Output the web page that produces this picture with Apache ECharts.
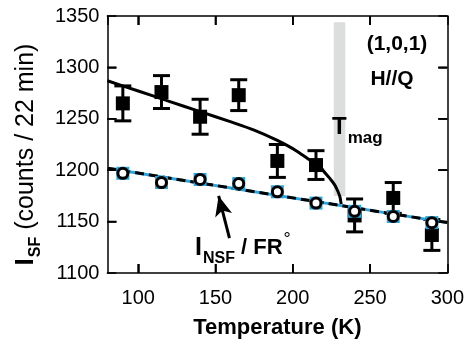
<!DOCTYPE html>
<html>
<head>
<meta charset="utf-8">
<script src="https://cdn.jsdelivr.net/npm/echarts@6/dist/echarts.min.js"></script>
<style>
  html, body { margin: 0; padding: 0; background: #fff; }
  #chart { width: 467px; height: 353px; }
</style>
</head>
<body>
<div id="chart"></div>
<script>
// spin-flip intensity with error bars
const temps = [90, 115, 140, 165, 190, 215, 240, 265, 290];
const sfCounts = [1265, 1276, 1252, 1273, 1209, 1205, 1156, 1173, 1137];
const sfErr = [17, 16, 17, 15, 16, 14, 16, 15, 15];
// non spin-flip / flipping ratio
const nsfCounts = [1197, 1188, 1191, 1187, 1179, 1168, 1160, 1155, 1149];

// fitted curve (solid) and background line (dashed)
const fitT = [80, 100, 120, 140, 160, 175, 190, 200, 205, 210, 215, 218, 220, 224, 227, 229, 230.5, 231.3];
const fitVals = [1287, 1277, 1267, 1257, 1247, 1239, 1229, 1221, 1216, 1211, 1206, 1203, 1199, 1192, 1186, 1180, 1174, 1167];
const bgT = [80, 300];
const bgVals = [1202, 1149];

// T_mag band and arrow
const tmagBand = [226.5, 234, 1175, 1344];
const arrowFrom = [159, 1134];
const arrowTo = [152, 1175];

const xRange = [80, 300];
const yRange = [1100, 1350];
const xInnerTicks = [100, 150, 200, 250];
const yInnerTicks = [1150, 1200, 1250, 1300];

const FONT = 'Liberation Sans, Arial, Helvetica, sans-serif';
const CYAN = '#2aa6dc';
const TICK_LEN = 9;

const pair = (xs, ys) => xs.map((x, i) => [x, ys[i]]);

const chart = echarts.init(document.getElementById('chart'));

// every axis gets its own objects
function frameAxis(extra) {
  return Object.assign({
    type: 'value',
    axisLine: { show: true, onZero: false, lineStyle: { color: '#000', width: 1.5 } },
    axisTick: { show: true, inside: true, length: TICK_LEN, lineStyle: { color: '#000', width: 1.5 } },
    splitLine: { show: false }
  }, extra);
}

function tickLine(x1, y1, x2, y2) {
  return { type: 'line', shape: { x1: x1, y1: y1, x2: x2, y2: y2 }, style: { stroke: '#000', lineWidth: 1.5 } };
}

const texts = [
  {
    type: 'text', x: 397, y: 44, z: 100,
    style: { text: '(1,0,1)', font: 'bold 21px ' + FONT, fill: '#000', align: 'center', verticalAlign: 'middle' }
  },
  {
    type: 'text', x: 392, y: 79, z: 100,
    style: { text: 'H//Q', font: 'bold 21px ' + FONT, fill: '#000', align: 'center', verticalAlign: 'middle' }
  },
  {
    type: 'text', x: 332, y: 127, z: 100,
    style: {
      text: '{t|T}{s|mag}', align: 'left', verticalAlign: 'middle', fill: '#000',
      rich: {
        t: { fontSize: 24, fontWeight: 'bold', fontFamily: FONT, lineHeight: 24 },
        s: { fontSize: 17, fontWeight: 'bold', fontFamily: FONT, lineHeight: 17, padding: [22, 0, 0, 1] }
      }
    }
  },
  {
    type: 'text', x: 195, y: 248, z: 100,
    style: {
      text: '{i|I}{s|NSF}{r| / FR}{d|°}', align: 'left', verticalAlign: 'middle', fill: '#000',
      rich: {
        i: { fontSize: 25, fontWeight: 'bold', fontFamily: FONT, lineHeight: 25 },
        s: { fontSize: 16, fontWeight: 'bold', fontFamily: FONT, lineHeight: 16, padding: [22, 0, 0, 1] },
        r: { fontSize: 22, fontWeight: 'bold', fontFamily: FONT, lineHeight: 22 },
        d: { fontSize: 18, fontFamily: FONT, lineHeight: 18, padding: [0, 0, 16, 1] }
      }
    }
  }
];

const option = {
  animation: false,
  grid: { left: 103, right: 19, top: 16, bottom: 80 },
  xAxis: [
    frameAxis({
      min: xRange[0], max: xRange[1], position: 'bottom',
      axisLabel: {
        showMinLabel: false, color: '#000', fontSize: 20, fontFamily: FONT, margin: 15,
        formatter: v => String(v)
      },
      name: 'Temperature (K)', nameLocation: 'middle', nameGap: 44,
      nameTextStyle: { color: '#000', fontSize: 22, fontWeight: 'bold', fontFamily: FONT }
    }),
    frameAxis({
      min: xRange[0], max: xRange[1], position: 'top',
      axisLabel: { show: false }
    })
  ],
  yAxis: [
    frameAxis({
      min: yRange[0], max: yRange[1], interval: 50, position: 'left',
      axisLabel: {
        color: '#000', fontSize: 20, fontFamily: FONT, margin: 8,
        formatter: v => String(v)
      },
      name: '{big|I}{sub|SF}{norm| (counts / 22 min)}', nameLocation: 'middle', nameGap: 68, nameRotate: 90,
      nameTextStyle: {
        color: '#000', fontFamily: FONT, padding: [0, 20, 0, 0],
        rich: {
          big: { fontSize: 26, fontWeight: 'bold', fontFamily: FONT, color: '#000', lineHeight: 26 },
          sub: { fontSize: 16, fontWeight: 'bold', fontFamily: FONT, color: '#000', lineHeight: 16, padding: [20, 0, 0, 1] },
          norm: { fontSize: 25, fontFamily: FONT, color: '#000', lineHeight: 25 }
        }
      }
    }),
    frameAxis({
      min: yRange[0], max: yRange[1], interval: 50, position: 'right',
      axisLabel: { show: false }
    })
  ],
  graphic: texts,
  series: [
    {
      // error bars (first item also carries the frame ticks)
      type: 'custom', z: 3,
      data: temps.map((t, i) => [t, sfCounts[i] - sfErr[i], sfCounts[i] + sfErr[i]]),
      renderItem: function (params, api) {
        const x = api.value(0);
        const lo = api.coord([x, api.value(1)]);
        const hi = api.coord([x, api.value(2)]);
        const w = 8.5;
        const children = [
          { type: 'line', shape: { x1: lo[0], y1: lo[1], x2: hi[0], y2: hi[1] }, style: { stroke: '#000', lineWidth: 3 } },
          { type: 'line', shape: { x1: lo[0] - w, y1: lo[1], x2: lo[0] + w, y2: lo[1] }, style: { stroke: '#000', lineWidth: 3 } },
          { type: 'line', shape: { x1: hi[0] - w, y1: hi[1], x2: hi[0] + w, y2: hi[1] }, style: { stroke: '#000', lineWidth: 3 } }
        ];
        if (params.dataIndex === 0) {
          xInnerTicks.forEach(function (v) {
            const b = api.coord([v, yRange[0]]);
            const t = api.coord([v, yRange[1]]);
            children.push(tickLine(b[0], b[1], b[0], b[1] - TICK_LEN));
            children.push(tickLine(t[0], t[1], t[0], t[1] + TICK_LEN));
          });
          yInnerTicks.forEach(function (v) {
            const l = api.coord([xRange[0], v]);
            const r = api.coord([xRange[1], v]);
            children.push(tickLine(l[0], l[1], l[0] + TICK_LEN, l[1]));
            children.push(tickLine(r[0], r[1], r[0] - TICK_LEN, r[1]));
          });
        }
        return { type: 'group', children: children };
      }
    },
    {
      type: 'scatter', z: 4, symbol: 'rect', symbolSize: 14,
      itemStyle: { color: '#000', opacity: 1 },
      data: pair(temps, sfCounts)
    },
    {
      type: 'line', z: 5, data: pair(fitT, fitVals), smooth: 0.3,
      showSymbol: false, lineStyle: { color: '#000', width: 3 },
      markArea: {
        silent: true,
        itemStyle: { color: '#dcdddd' },
        data: [[{ coord: [tmagBand[0], tmagBand[2]] }, { coord: [tmagBand[1], tmagBand[3]] }]]
      }
    },
    {
      type: 'line', z: 6, data: pair(bgT, bgVals), showSymbol: false,
      lineStyle: { color: CYAN, width: 3 }
    },
    {
      type: 'line', z: 7, data: pair(bgT, bgVals), showSymbol: false,
      lineStyle: { color: '#000', width: 3, type: [9, 5] },
      markLine: {
        silent: true, symbol: ['none', 'arrow'], symbolSize: [13, 20],
        label: { show: false },
        lineStyle: { color: '#000', width: 3, type: 'solid' },
        data: [[{ coord: arrowFrom }, { coord: arrowTo }]]
      }
    },
    {
      type: 'scatter', z: 8, symbol: 'rect', symbolSize: 13,
      itemStyle: { color: CYAN, opacity: 1 },
      data: pair(temps, nsfCounts)
    },
    {
      type: 'scatter', z: 9, symbol: 'circle', symbolSize: 10,
      itemStyle: { color: '#fff', borderColor: '#000', borderWidth: 3, opacity: 1 },
      data: pair(temps, nsfCounts)
    }
  ]
};

chart.setOption(option);

// frame ticks again as graphic lines, placed through the grid's scales
const tickGraphics = [];
xInnerTicks.forEach(function (v) {
  const b = chart.convertToPixel({ gridIndex: 0 }, [v, yRange[0]]);
  const t = chart.convertToPixel({ gridIndex: 0 }, [v, yRange[1]]);
  tickGraphics.push(Object.assign(tickLine(b[0], b[1], b[0], b[1] - TICK_LEN), { z: 90 }));
  tickGraphics.push(Object.assign(tickLine(t[0], t[1], t[0], t[1] + TICK_LEN), { z: 90 }));
});
yInnerTicks.forEach(function (v) {
  const l = chart.convertToPixel({ gridIndex: 0 }, [xRange[0], v]);
  const r = chart.convertToPixel({ gridIndex: 0 }, [xRange[1], v]);
  tickGraphics.push(Object.assign(tickLine(l[0], l[1], l[0] + TICK_LEN, l[1]), { z: 90 }));
  tickGraphics.push(Object.assign(tickLine(r[0], r[1], r[0] - TICK_LEN, r[1]), { z: 90 }));
});
chart.setOption({ graphic: texts.concat(tickGraphics) });

window.onresize = function () {
  chart.resize();
};
</script>
</body>
</html>
